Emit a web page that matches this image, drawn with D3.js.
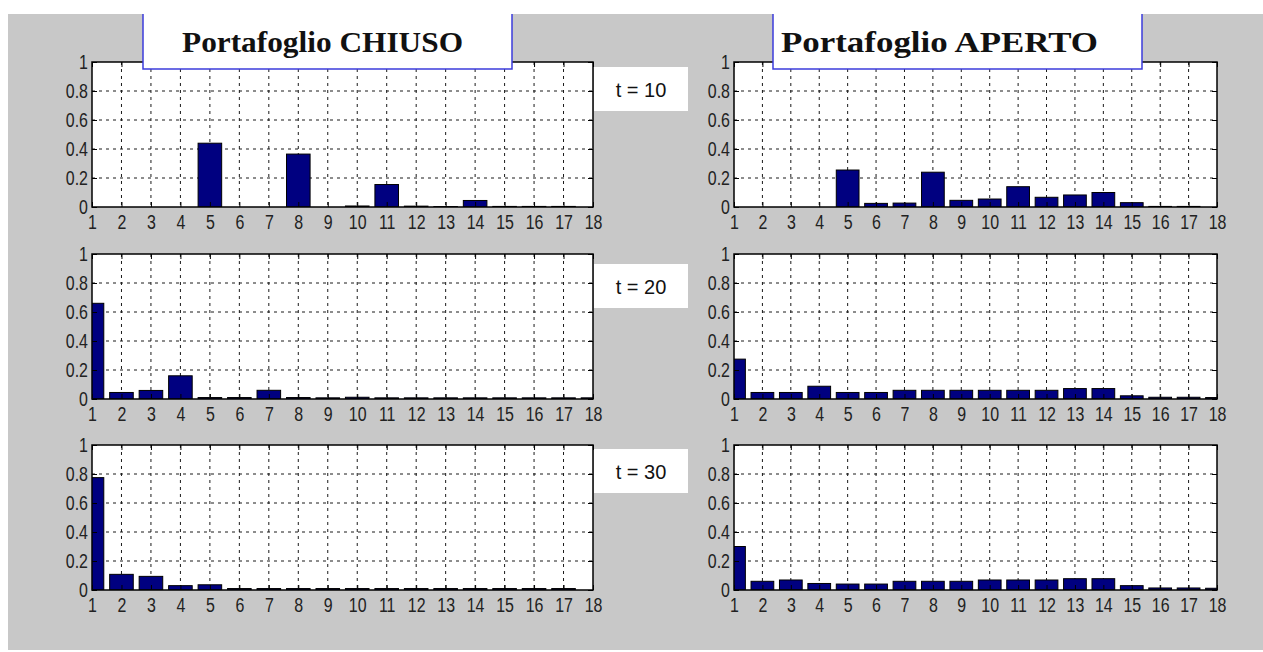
<!DOCTYPE html>
<html>
<head>
<meta charset="utf-8">
<script src="https://cdn.jsdelivr.net/npm/d3@7"></script>
<style>
  body { margin: 0; background: #fff; }
  svg { display: block; }
</style>
</head>
<body>
<div class="board"></div>
<script>
// data

var categories = [1, 2, 3, 4, 5, 6, 7, 8, 9, 10, 11, 12, 13, 14, 15, 16, 17, 18];
var yTicks = [0, 0.2, 0.4, 0.6, 0.8, 1];
var yTickLabels = ['0', '0.2', '0.4', '0.6', '0.8', '1'];

var chiuso10 = [0, 0, 0, 0, 0.44, 0, 0, 0.365, 0, 0.007, 0.155, 0.006, 0.003, 0.045, 0.004, 0.004, 0.004, 0];
var chiuso20 = [0.66, 0.045, 0.059, 0.16, 0.01, 0.01, 0.06, 0.01, 0.008, 0.012, 0.008, 0.008, 0.008, 0.008, 0.008, 0.008, 0.008, 0.008];
var chiuso30 = [0.775, 0.108, 0.094, 0.03, 0.036, 0.01, 0.01, 0.01, 0.01, 0.01, 0.01, 0.01, 0.01, 0.01, 0.01, 0.01, 0.01, 0];

var aperto10 = [0, 0, 0, 0, 0.255, 0.025, 0.027, 0.24, 0.046, 0.055, 0.14, 0.067, 0.083, 0.1, 0.03, 0.004, 0.004, 0];
var aperto20 = [0.275, 0.045, 0.045, 0.088, 0.045, 0.045, 0.06, 0.06, 0.06, 0.06, 0.06, 0.06, 0.072, 0.072, 0.022, 0.012, 0.012, 0.01];
var aperto30 = [0.30, 0.06, 0.069, 0.045, 0.041, 0.041, 0.06, 0.06, 0.06, 0.069, 0.069, 0.069, 0.078, 0.078, 0.03, 0.014, 0.014, 0.012];

var panelTitles = ['Portafoglio CHIUSO', 'Portafoglio APERTO'];
var timeLabels = ['t = 10', 't = 20', 't = 30'];

// layout
var opts = {
  width: 1263,
  height: 652,
  colX: [92, 734],
  colW: [501, 483],
  rowY: [62, 254, 445],
  plotH: 145,
  barColor: '#000080',
  bg: '#c8c8c8'
};

var svg = d3.select('.board').append('svg')
  .attr('width', opts.width)
  .attr('height', opts.height);

svg.append('rect')
  .attr('x', 8).attr('y', 14)
  .attr('width', opts.width - 8).attr('height', 636)
  .attr('fill', opts.bg);

var series = [
  [chiuso10, aperto10],
  [chiuso20, aperto20],
  [chiuso30, aperto30]
];

var narrow = 0.76;

var drawPanel = function(values, row, col, id) {
  var w = opts.colW[col], h = opts.plotH;
  var g = svg.append('g')
    .attr('transform', 'translate(' + opts.colX[col] + ',' + opts.rowY[row] + ')');

  var x = d3.scaleLinear().domain([1, 18]).range([0, w]);
  var y = d3.scaleLinear().domain([0, 1]).range([h, 0]);
  var step = x(2) - x(1);

  g.append('clipPath').attr('id', 'clip' + id)
    .append('rect').attr('width', w).attr('height', h);

  g.append('rect')
    .attr('width', w).attr('height', h)
    .attr('fill', '#fff');

  // dotted grid
  g.append('g').selectAll('line.vg')
    .data(categories.slice(1, -1))
    .enter().append('line')
    .attr('x1', function(d) { return x(d); })
    .attr('x2', function(d) { return x(d); })
    .attr('y1', 0).attr('y2', h)
    .attr('stroke', '#1a1a1a')
    .attr('stroke-width', 1)
    .attr('stroke-dasharray', '3,4');

  g.append('g').selectAll('line.hg')
    .data(yTicks.slice(1, -1))
    .enter().append('line')
    .attr('x1', 0).attr('x2', w)
    .attr('y1', function(d) { return y(d); })
    .attr('y2', function(d) { return y(d); })
    .attr('stroke', '#1a1a1a')
    .attr('stroke-width', 1)
    .attr('stroke-dasharray', '3,4');

  // bars
  g.append('g').attr('clip-path', 'url(#clip' + id + ')')
    .selectAll('rect')
    .data(values)
    .enter().append('rect')
    .attr('x', function(d, i) { return x(categories[i]) - step * 0.4; })
    .attr('width', step * 0.8)
    .attr('y', function(d) { return y(d); })
    .attr('height', function(d) { return h - y(d); })
    .attr('fill', opts.barColor)
    .attr('stroke', '#000')
    .attr('stroke-width', 1);

  // axes, matlab style ticks pointing inward
  var fmtY = function(d) { return yTickLabels[yTicks.indexOf(d)]; };

  var bottom = g.append('g').attr('transform', 'translate(0,' + h + ')')
    .call(d3.axisBottom(x).tickValues(categories).tickSize(-5).tickPadding(7).tickFormat(d3.format('d')));
  var left = g.append('g')
    .call(d3.axisLeft(y).tickValues(yTicks).tickSize(-5).tickPadding(4).tickFormat(fmtY));
  g.append('g')
    .call(d3.axisTop(x).tickValues(categories).tickSize(-5).tickFormat(''));
  g.append('g').attr('transform', 'translate(' + w + ',0)')
    .call(d3.axisRight(y).tickValues(yTicks).tickSize(-5).tickFormat(''));

  g.selectAll('.domain').remove();
  g.selectAll('.tick line').attr('stroke', '#000');
  g.selectAll('.tick text')
    .attr('fill', '#222')
    .style('font-family', '"Liberation Sans", Arial, sans-serif')
    .style('font-size', '21px');
  bottom.selectAll('.tick text').attr('transform', 'scale(' + narrow + ',1)');
  left.selectAll('.tick text')
    .attr('x', -4 / narrow)
    .attr('transform', 'scale(' + narrow + ',1)');

  g.append('rect')
    .attr('width', w).attr('height', h)
    .attr('fill', 'none')
    .attr('stroke', '#000')
    .attr('stroke-width', 1.5);
};

series.forEach(function(pair, row) {
  pair.forEach(function(values, col) {
    drawPanel(values, row, col, row + '_' + col);
  });
});

// title boxes on top of the first row
var titleBoxes = [{x: 143, w: 369, tx: 182, tw: 281}, {x: 773, w: 369, tx: 781, tw: 317}];
titleBoxes.forEach(function(b, i) {
  svg.append('rect')
    .attr('x', b.x).attr('y', 14)
    .attr('width', b.w).attr('height', 55)
    .attr('fill', '#fff');
  svg.append('path')
    .attr('d', 'M' + b.x + ',14V69H' + (b.x + b.w) + 'V14')
    .attr('fill', 'none')
    .attr('stroke', '#3c3cdc')
    .attr('stroke-width', 1.5);
  svg.append('text')
    .attr('x', b.tx).attr('y', 52)
    .attr('textLength', b.tw)
    .attr('lengthAdjust', 'spacingAndGlyphs')
    .style('font-family', '"Liberation Serif", "Times New Roman", serif')
    .style('font-weight', 'bold')
    .style('font-size', '29px')
    .attr('fill', '#111')
    .text(panelTitles[i]);
});

// time labels between the columns
var timeBoxY = [67, 264, 449];
timeLabels.forEach(function(t, i) {
  svg.append('rect')
    .attr('x', 594).attr('y', timeBoxY[i])
    .attr('width', 94).attr('height', 44)
    .attr('fill', '#fff');
  svg.append('text')
    .attr('x', 641).attr('y', timeBoxY[i] + 30)
    .attr('text-anchor', 'middle')
    .style('font-family', '"Liberation Sans", Arial, sans-serif')
    .style('font-size', '20px')
    .attr('fill', '#111')
    .text(t);
});
</script>
</body>
</html>
